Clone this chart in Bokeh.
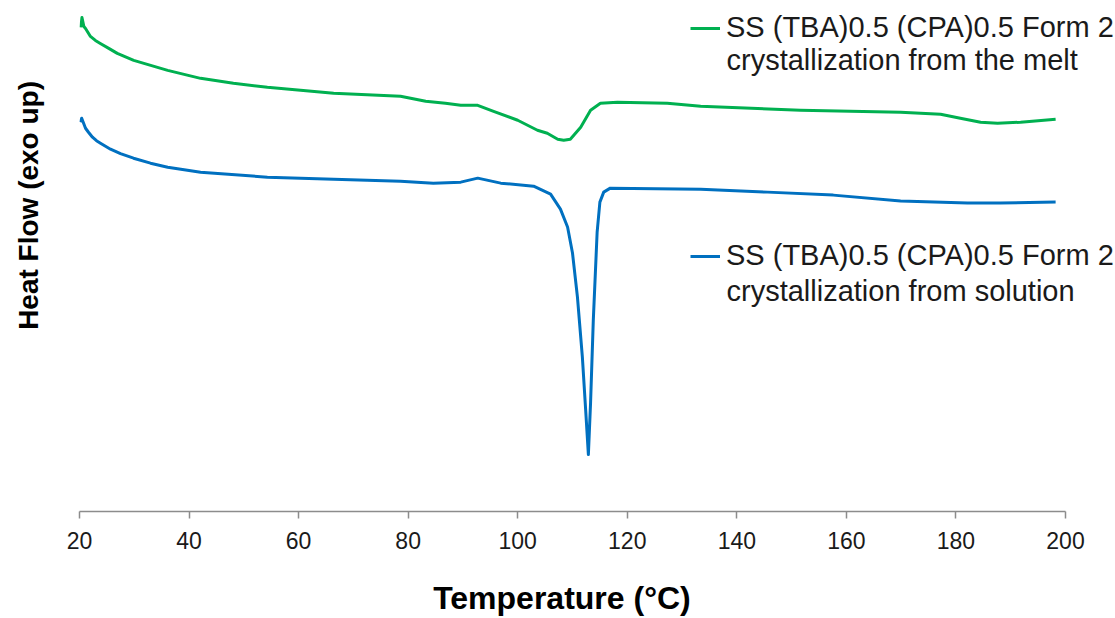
from bokeh.plotting import figure
from bokeh.models import Range1d, FixedTicker, Legend, LegendItem, Label
from bokeh.embed import file_html
from bokeh.resources import INLINE

# ---- data ----
temp_melt = [20.25, 20.45, 20.8, 21.1, 22.0, 22.9, 23.8, 25.5, 26.9, 29.9, 33.0, 36.1,
             42.1, 48.1, 54.3, 66.4, 78.6, 83.2, 86.8, 89.6, 92.7, 95.6, 100.0, 103.6,
             105.4, 107.3, 108.4, 109.6, 111.5, 113.3, 115.1, 118.2, 127.3, 133.4,
             151.6, 169.9, 177.2, 180.8, 184.5, 187.6, 191.8, 198.2]
hf_melt = [4.85, 4.95, 4.86, 4.84, 4.76, 4.72, 4.69, 4.635, 4.59, 4.52, 4.47, 4.42,
           4.34, 4.29, 4.25, 4.19, 4.16, 4.11, 4.09, 4.07, 4.07, 4.01, 3.92, 3.82,
           3.79, 3.73, 3.72, 3.73, 3.85, 4.02, 4.09, 4.10, 4.09, 4.06,
           4.02, 4.00, 3.98, 3.94, 3.90, 3.89, 3.90, 3.93]

temp_sol = [20.2, 20.4, 21.1, 21.64, 22.37, 23.1, 23.83, 25.66, 27.48, 29.86, 32.96,
            36.1, 42.1, 54.3, 66.4, 78.6, 84.6, 89.6, 92.7, 96.9, 102.9, 106.0, 107.8,
            109.1, 110.0, 110.9, 111.8, 112.4, 112.9, 113.3, 113.8, 114.5, 115.0,
            115.7, 116.9, 133.4, 145.6, 157.6, 169.9, 182.1, 188.1, 198.2]
hf_sol = [3.90, 3.94, 3.84, 3.80, 3.75, 3.715, 3.69, 3.63, 3.585, 3.54, 3.49,
          3.45, 3.40, 3.35, 3.33, 3.31, 3.29, 3.30, 3.34, 3.29, 3.26, 3.18, 3.03,
          2.85, 2.59, 2.15, 1.55, 1.02, 0.57, 1.09, 1.92, 2.80, 3.10,
          3.20, 3.24, 3.23, 3.20, 3.17, 3.11, 3.09, 3.09, 3.10]

x_ticks = [20, 40, 60, 80, 100, 120, 140, 160, 180, 200]
x_tick_labels = ["20", "40", "60", "80", "100", "120", "140", "160", "180", "200"]

melt_lines = ["SS (TBA)0.5 (CPA)0.5 Form 2", "crystallization from the melt"]
sol_lines = ["SS (TBA)0.5 (CPA)0.5 Form 2", "crystallization from solution"]
x_title = "Temperature (°C)"
y_title = "Heat Flow (exo up)"

GREEN = "#00B050"
BLUE = "#0070C0"
FONT = "Liberation Sans"
NBSP = "\u00a0"

p = figure(width=1115, height=618, output_backend="svg", toolbar_location=None,
           x_range=Range1d(20, 209.13), y_range=Range1d(0, 5.12),
           min_border_left=79, min_border_right=0, min_border_top=0,
           min_border_bottom=106)
p.background_fill_color = "white"
p.border_fill_color = "white"
p.outline_line_color = None
p.xgrid.visible = False
p.ygrid.visible = False

xa = p.xaxis[0]
xa.ticker = FixedTicker(ticks=x_ticks)
xa.major_label_overrides = {t: l for t, l in zip(x_ticks, x_tick_labels)}
xa.bounds = (20, 200)
xa.axis_line_color = "#8c8c8c"
xa.axis_line_width = 1.5
xa.major_tick_line_color = "#8c8c8c"
xa.major_tick_line_width = 1.5
xa.major_tick_out = 7
xa.major_tick_in = 0
xa.minor_tick_out = 0
xa.minor_tick_in = 0
xa.major_label_text_font = FONT
xa.major_label_text_font_size = "23px"
xa.major_label_text_color = "#1a1a1a"
xa.major_label_standoff = 13
# trailing no-break spaces shift the centred title over the 20-200 span
xa.axis_label = x_title + NBSP * 8
xa.axis_label_text_font = FONT
xa.axis_label_text_font_style = "bold"
xa.axis_label_text_font_size = "32px"
xa.axis_label_text_color = "black"
xa.axis_label_standoff = 28

# y axis: no line, ticks or numbers -- only its title
ya = p.yaxis[0]
ya.ticker = FixedTicker(ticks=[])
ya.axis_line_color = None
ya.major_tick_out = 0
ya.major_tick_in = 0
ya.minor_tick_out = 0
ya.minor_tick_in = 0
ya.major_label_text_font_size = "0px"
ya.major_label_standoff = 0
# leading no-break spaces lift the centred title to match the reference
ya.axis_label = NBSP * 13 + y_title
ya.axis_label_text_font = FONT
ya.axis_label_text_font_style = "bold"
ya.axis_label_text_font_size = "28px"
ya.axis_label_text_color = "black"
ya.axis_label_standoff = 36

r_melt = p.line(temp_melt, hf_melt, line_color=GREEN, line_width=3, line_join="round")
r_sol = p.line(temp_sol, hf_sol, line_color=BLUE, line_width=3, line_join="round")

common = dict(padding=0, margin=0, spacing=0, glyph_width=30, glyph_height=32,
              label_height=32, label_standoff=6, label_text_font=FONT,
              label_text_font_size="29px", label_text_color="#1a1a1a",
              background_fill_alpha=0, border_line_color=None)
leg1 = Legend(items=[LegendItem(label=melt_lines[0], renderers=[r_melt])],
              location=(611, 467), **common)
leg2 = Legend(items=[LegendItem(label=sol_lines[0], renderers=[r_sol])],
              location=(611, 239), **common)
p.add_layout(leg1)
p.add_layout(leg2)

p.add_layout(Label(x=138.11, y=4.52, text=melt_lines[1], text_baseline="alphabetic",
                   text_font=FONT, text_font_size="29px", text_color="#1a1a1a"))
p.add_layout(Label(x=138.11, y=2.21, text=sol_lines[1], text_baseline="alphabetic",
                   text_font=FONT, text_font_size="29px", text_color="#1a1a1a"))

open("out.html", "w").write(file_html(p, INLINE))
